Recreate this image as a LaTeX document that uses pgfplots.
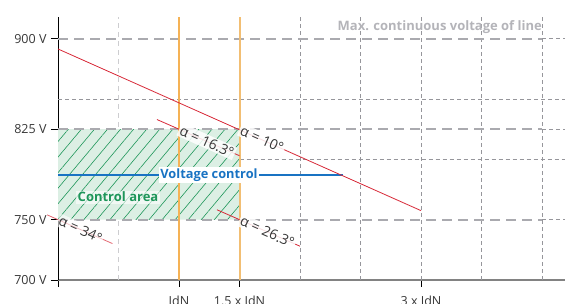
\documentclass[border=0pt]{standalone}
\usepackage{pgfplots}
\pgfplotsset{compat=1.18}
\usepackage{fontspec}
\setmainfont{Open Sans}
\usetikzlibrary{patterns.meta}
\definecolor{redl}{RGB}{215,40,55}
\definecolor{orA}{RGB}{245,178,85}
\definecolor{orB}{RGB}{242,190,115}
\definecolor{gthick}{RGB}{170,170,175}
\definecolor{gthin}{RGB}{150,150,155}
\definecolor{glight}{RGB}{205,205,208}
\definecolor{hbg}{RGB}{220,239,228}
\definecolor{hline}{RGB}{30,150,90}
\definecolor{bluel}{RGB}{25,115,195}
\definecolor{maxg}{RGB}{180,180,185}
\definecolor{txt}{RGB}{55,55,55}
\begin{document}
\begin{tikzpicture}
\begin{axis}[
  scale only axis, width=507pt, height=263pt,
  xmin=0, xmax=4.19, ymin=700, ymax=918,
  clip=false,
  axis x line*=bottom, axis y line*=left,
  x axis line style={draw={rgb,255:red,130;green,130;blue,130}, line width=1.6pt},
  y axis line style={black, line width=0.8pt},
  xtick={0,1,1.5,3}, xticklabels={,IdN,1.5 x IdN,3 x IdN},
  ytick={700,750,825,900}, yticklabels={700 V,750 V,825 V,900 V},
  tick align=outside, major tick length=7pt,
  tick style={black, line width=0.8pt},
  ticklabel style={font=\fontsize{12.5}{14}\selectfont, text=txt},
  yticklabel style={xshift=-1pt},
  xticklabel style={yshift=-5pt},
]
% light grid
\addplot[glight, line width=1.6pt, dash pattern=on 5pt off 4pt] coordinates {(0.5,700) (0.5,918)};
\foreach \xx in {2,2.5,3,3.5,4} {
  \edef\temp{\noexpand\addplot[gthin, line width=0.8pt, dash pattern=on 4pt off 3pt] coordinates {(\xx,700) (\xx,918)};}
  \temp
}
\addplot[gthin, line width=0.8pt, dash pattern=on 4pt off 3pt] coordinates {(0,850) (4.19,850)};
\addplot[gthin, line width=0.8pt, dash pattern=on 4pt off 3pt] coordinates {(1.5,800) (4.19,800)};
% control area
\addplot[fill=hbg, draw=none, postaction={pattern={Lines[angle=50,distance=10pt,line width=0.6pt]}, pattern color=hline}] coordinates {(0,750) (1.5,750) (1.5,825) (0,825) (0,750)};
% thick dashed levels
\foreach \yy in {750,825,900} {
  \edef\temp{\noexpand\addplot[gthick, line width=2.2pt, dash pattern=on 10pt off 6pt] coordinates {(0,\yy) (4,\yy)};
  \noexpand\addplot[gthin, line width=0.8pt, dash pattern=on 4pt off 3pt] coordinates {(4,\yy) (4.19,\yy)};}
  \temp
}
% orange
\addplot[orA, line width=1.15pt] coordinates {(1,700) (1,918)};
\addplot[orB, line width=2pt] coordinates {(1.5,700) (1.5,918)};
% voltage control
\addplot[bluel, line width=2.2pt] coordinates {(0,787) (2.354,787)};
% red lines
\addplot[redl, line width=0.8pt] coordinates {(0,891.5) (3,757.5)};
\addplot[redl, line width=0.8pt] coordinates {(0.818,833) (1.5,803)};
\addplot[redl, line width=0.8pt] coordinates {(1.314,758.2) (2.0,728)};
\addplot[redl!70, line width=0.8pt] coordinates {(-0.09,754) (0.45,730.2)};
% labels
\tikzset{albl/.style={font=\fontsize{14}{16}\selectfont, text=txt, fill=white, fill opacity=0.85, text opacity=1, inner sep=1.5pt, rotate=-24, anchor=west}}
\node[albl] at (axis cs:1.5,825) {α = 10°};
\node[albl] at (axis cs:1,825) {α = 16.3°};
\node[albl] at (axis cs:1.5,750) {α = 26.3°};
\node[albl, fill opacity=0.6] at (axis cs:0,750) {α = 34°};
\node[font=\bfseries\fontsize{12.8}{14}\selectfont, text=bluel, fill=white, inner sep=1.5pt] at (axis cs:1.248,787) {Voltage control};
\node[font=\bfseries\fontsize{13}{14}\selectfont, text=hline, fill=white, fill opacity=0.6, text opacity=1, inner sep=1.5pt] at (axis cs:0.496,768.75) {Control area};
\node[font=\bfseries\fontsize{13}{14}\selectfont, text=maxg, anchor=east, inner sep=0pt] at (axis cs:4,910) {Max. continuous voltage of line};
\coordinate (bl) at (rel axis cs:0,0);
\coordinate (tr) at (rel axis cs:1,1);
\end{axis}
\pgfresetboundingbox
\useasboundingbox ([xshift=-58pt,yshift=-24pt]bl) rectangle ([yshift=17pt]tr);
\end{tikzpicture}
\end{document}
